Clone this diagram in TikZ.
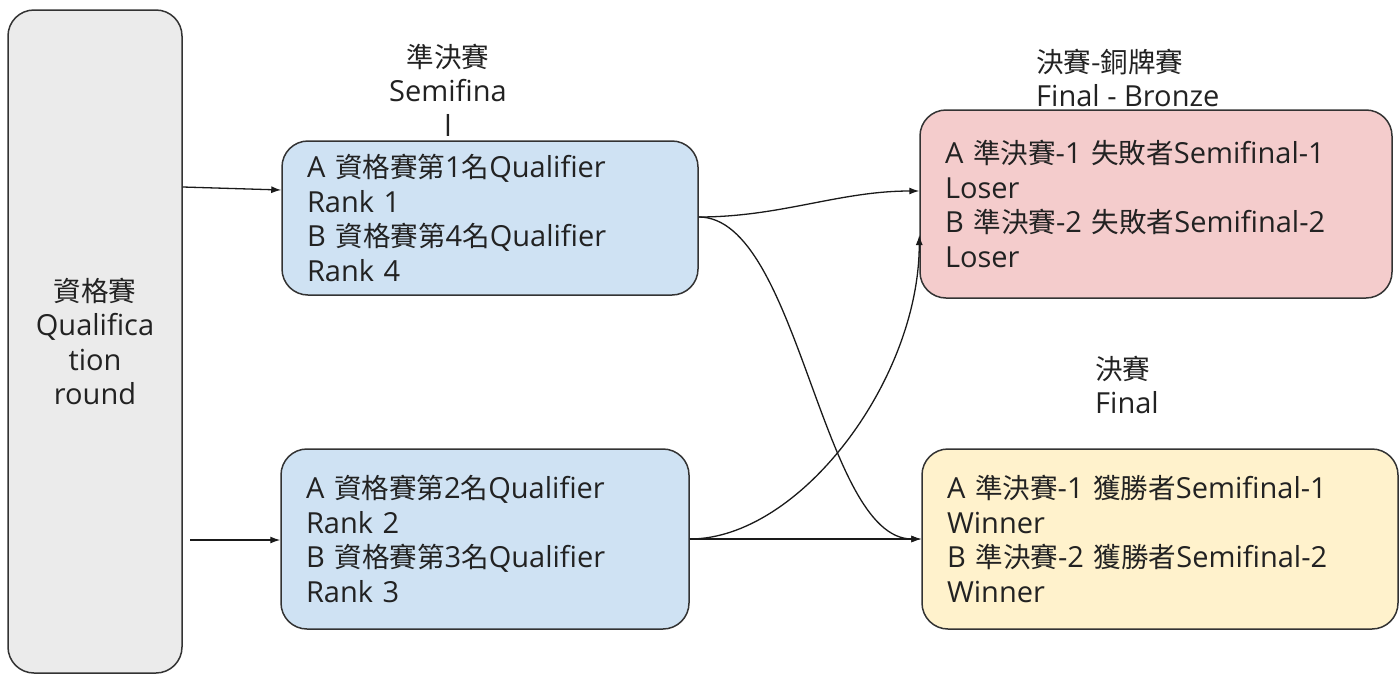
\documentclass[tikz,border=0pt]{standalone}
\usepackage{fontspec}
\setmainfont{Open Sans}
\newfontfamily\cjkfont[Scale=0.95]{Noto Sans CJK TC}
\usetikzlibrary{arrows.meta}
\newcommand{\zh}[1]{{\cjkfont #1}}
\newcommand{\fs}{\fontsize{29pt}{34.5pt}\selectfont}
\definecolor{qgray}{HTML}{EBEBEB}
\definecolor{sblue}{HTML}{CFE2F3}
\definecolor{bred}{HTML}{F4CCCC}
\definecolor{fyel}{HTML}{FFF2CC}
\definecolor{bordercol}{HTML}{333333}
\definecolor{txtcol}{HTML}{222222}
\definecolor{linecol}{HTML}{1A1A1A}
\begin{document}
\begin{tikzpicture}[x=1pt,y=-1pt,
  box/.style={draw=bordercol, line width=1.5pt, rounded corners=26pt, inner xsep=25pt, inner ysep=0pt, align=left, font=\fs, text=txtcol},
  conn/.style={line width=1.3pt, draw=linecol, -{Latex[length=10pt,width=7pt]}},
  lbl/.style={font=\fs, text=txtcol, inner sep=0pt}]
\useasboundingbox (0,0) rectangle (1400,675);

% nodes
\node[box, fill=qgray, align=center, minimum width=174pt, minimum height=663pt] (q) at (95,341.5)
  {\zh{資格賽}\\Qualifica\\tion\\round};
\node[box, fill=sblue, minimum width=416pt, minimum height=154pt, text width=366pt] (s1) at (490,218)
  {A \zh{資格賽第}1\zh{名}Qualifier\\Rank 1\\B \zh{資格賽第}4\zh{名}Qualifier\\Rank 4};
\node[box, fill=sblue, minimum width=408pt, minimum height=180pt, text width=358pt] (s2) at (485,539)
  {A \zh{資格賽第}2\zh{名}Qualifier\\Rank 2\\B \zh{資格賽第}3\zh{名}Qualifier\\Rank 3};
\node[box, fill=bred, minimum width=472pt, minimum height=188pt, text width=422pt] (br) at (1156,204)
  {A \zh{準決賽}-1 \zh{失敗者}Semifinal-1\\Loser\\B \zh{準決賽}-2 \zh{失敗者}Semifinal-2\\Loser};
\node[box, fill=fyel, minimum width=476pt, minimum height=180pt, text width=426pt] (fin) at (1160,539)
  {A \zh{準決賽}-1 \zh{獲勝者}Semifinal-1\\Winner\\B \zh{準決賽}-2 \zh{獲勝者}Semifinal-2\\Winner};

% labels
\node[lbl, align=center] (semlbl) at (448,90) {\zh{準決賽}\\Semifina\\l};
\node[lbl, align=left, anchor=west] (brlbl) at (1036,78) {\zh{決賽-銅牌賽}\\Final - Bronze};
\node[lbl, align=left, anchor=west] (finlbl) at (1095,385) {\zh{決賽}\\Final};

% connectors
\coordinate (a2) at (190,540);
\draw[conn] (q.east |- 0,187) -- (s1.west |- 0,190);
\draw[conn] (a2) -- (s2.west |- a2);
\draw[conn] (s1.east |- 0,217) .. controls +(82,0) and +(-80,0) .. (br.west |- 0,191);
\draw[conn] (s1.east |- 0,217) .. controls +(100,0) and +(-100,0) .. (fin.west);
\draw[conn] (s2.east) -- (fin.west);
\draw[conn] (s2.east) .. controls +(110,0) and +(0,145) .. (br.west |- 0,235);
\end{tikzpicture}
\end{document}
